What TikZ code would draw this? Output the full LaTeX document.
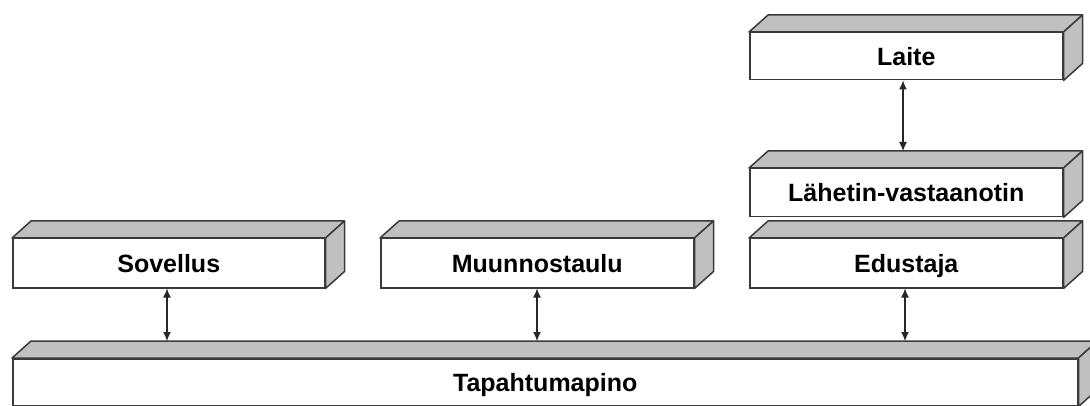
\documentclass[tikz,border=0pt]{standalone}
\usepackage{fontspec}
\setmainfont{Liberation Sans}
\usetikzlibrary{arrows.meta}
\begin{document}
\definecolor{edge}{HTML}{3A3A3A}
\definecolor{facegray}{HTML}{C0C0C0}
\begin{tikzpicture}[x=1pt,y=-1pt,
  block/.style={draw=edge, fill=white, line width=1.5pt, inner sep=0pt,
    text height=18pt, text depth=0pt,
    anchor=north west, font=\fontsize{25}{29}\selectfont\bfseries},
  face/.style={draw=edge, fill=facegray, line width=1.5pt, line join=round},
  link/.style={<->, >={Latex[length=9pt,width=8pt]}, line width=1.2pt, black!85}]
\useasboundingbox (0,0) rectangle (1090,406);
% front faces of the slabs
\node[block, minimum width=312pt, minimum height=49pt] (sov) at (12,238) {Sovellus};
\node[block, minimum width=313pt, minimum height=49pt] (muu) at (380,238) {Muunnostaulu};
\node[block, minimum width=313pt, minimum height=49pt] (edu) at (749,238) {Edustaja};
\node[block, minimum width=313pt, minimum height=48pt] (lah) at (749,168) {Lähetin-vastaanotin};
\node[block, minimum width=313pt, minimum height=47pt] (lai) at (749,32) {Laite};
\node[block, minimum width=1065pt, minimum height=47pt] (tap) at (12,358) {Tapahtumapino};
% top and side faces giving depth
\foreach \n in {sov,muu,edu,lah,lai,tap}{
  \draw[face] (\n.north west) -- ([shift={(19,-17)}]\n.north west)
     -- ([shift={(19,-17)}]\n.north east) -- (\n.north east) -- cycle;
  \draw[face] (\n.north east) -- ([shift={(19,-17)}]\n.north east)
     -- ([shift={(19,-17)}]\n.south east) -- (\n.south east) -- cycle;
}
% points on the back edges of the top faces where the connectors end
\coordinate (tapA) at (167,341);
\coordinate (tapB) at (537,341);
\coordinate (tapC) at (905,341);
\coordinate (lahT) at (903,151);
% connectors
\draw[link] (sov.south -| tapA) -- (tapA);
\draw[link] (muu.south -| tapB) -- (tapB);
\draw[link] (edu.south -| tapC) -- (tapC);
\draw[link] (lai.south -| lahT) -- (lahT);
\end{tikzpicture}
\end{document}
